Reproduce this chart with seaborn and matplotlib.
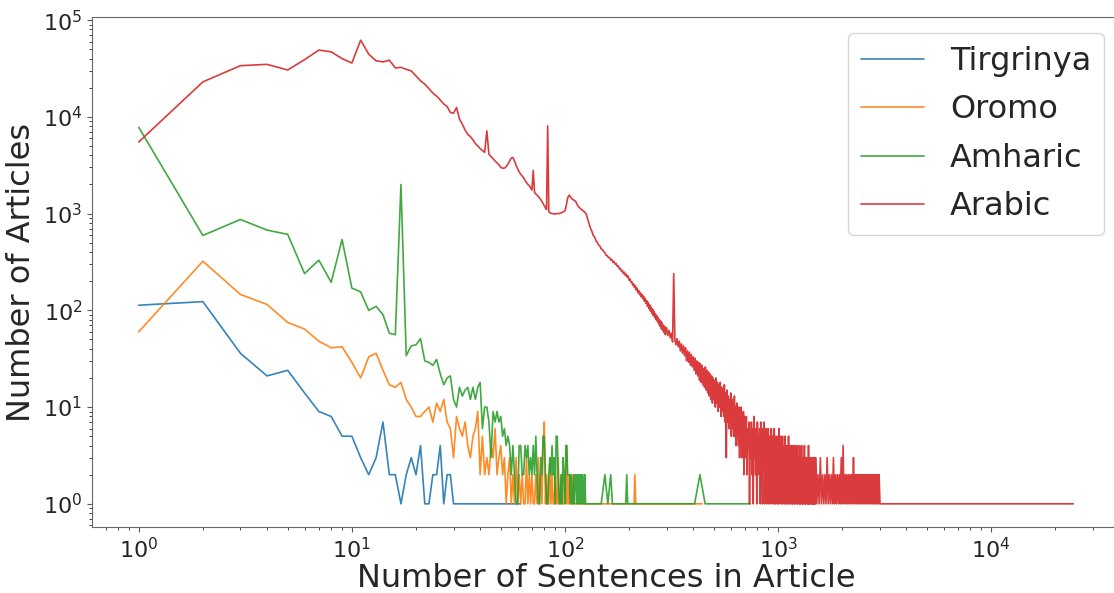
import matplotlib
matplotlib.use("Agg")
import matplotlib.pyplot as plt
import numpy as np
import pandas as pd
import seaborn as sns

# article counts per number of sentences (zero counts left out of the log plot)
tigrinya_x = list(range(1, 31)) + [40, 54, 62]
tigrinya_counts = [113, 123, 36, 21, 24, 14, 9, 8, 5, 5,
                   3, 2, 3, 7, 2, 2, 1, 2, 3, 2,
                   4, 1, 1, 2, 2, 4, 1, 2, 2, 1,
                   1, 1, 1]

oromo_x = list(range(1, 111)) + [118, 126, 140, 160, 185, 211, 213, 215, 260, 330, 440]
oromo_counts = [60, 322, 146, 115, 75, 64, 48, 41, 42, 29,
                20, 33, 36, 24, 17, 16, 18, 12, 10, 8,
                8, 9, 10, 7, 11, 9, 12, 7, 6, 3,
                8, 6, 5, 7, 4, 3, 5, 6, 9, 2,
                5, 2, 3, 2, 4, 3, 6, 2, 3, 4,
                2, 3, 1, 2, 3, 1, 2, 1, 3, 1,
                2, 1, 2, 1, 1, 3, 1, 2, 1, 2,
                1, 1, 2, 1, 3, 1, 2, 1, 4, 7,
                1, 2, 1, 1, 3, 1, 2, 1, 1, 2,
                1, 1, 3, 1, 1, 2, 1, 1, 1, 2,
                1, 4, 1, 1, 2, 1, 1, 1, 2, 1,
                1, 1, 1, 1, 1, 1, 2, 1, 1, 1, 1]

amharic_x = list(range(1, 127)) + [135, 148, 154, 159, 164, 167, 180, 193, 195, 197,
                                   250, 320, 406, 430, 455, 600, 740]
amharic_counts = [7800, 594, 870, 675, 610, 240, 330, 195, 540, 170,
                  155, 100, 110, 90, 58, 56, 2000, 34, 43, 44,
                  51, 30, 29, 27, 31, 22, 17, 20, 21, 12,
                  10, 16, 13, 15, 16, 12, 16, 12, 16, 18,
                  6, 10, 10, 7, 3, 9, 7, 9, 7, 8,
                  5, 6, 4, 5, 4, 2, 4, 2, 1, 1,
                  4, 4, 2, 2, 4, 3, 4, 2, 3, 2,
                  4, 2, 5, 2, 1, 1, 3, 2, 5, 5,
                  2, 1, 1, 2, 3, 2, 4, 2, 3, 1,
                  5, 5, 2, 1, 1, 2, 1, 3, 2, 1,
                  4, 4, 2, 2, 2, 1, 2, 1, 1, 2,
                  1, 2, 2, 1, 2, 1, 2, 1, 2, 1,
                  2, 1, 1, 2, 1, 1,
                  1, 1, 2, 1, 2, 1, 1, 1, 2, 1,
                  1, 1, 1, 2, 1, 1, 1]

arabic_x = (list(range(1, 131)) + list(range(132, 300, 2)) + list(range(300, 700, 4))
            + list(range(700, 1500, 5)) + list(range(1500, 3000, 20)) + [3010, 24300])
arabic_counts = [
    5500, 23000, 33800, 34900, 30500, 39000, 49000, 47000, 40000, 36000,
    62000, 44500, 38000, 37000, 38500, 32000, 32500, 31000, 29900, 26500,
    23600, 21800, 19600, 17600, 16400, 14900, 13600, 12800, 11100, 10900,
    12500, 9500, 8400, 7300, 6600, 6250, 5800, 5300, 5000, 4700,
    4500, 4300, 7150, 4100, 3900, 3700, 3500, 3350, 3200, 3000,
    2950, 2950, 3050, 3250, 3500, 3750, 3800, 3500, 3150, 2900,
    2700, 2550, 2450, 2350, 2200, 2100, 2000, 1950, 1850, 1750,
    2800, 1650, 1600, 1550, 1500, 1450, 1400, 1330, 1270, 1200,
    1150, 1100, 8050, 1050, 1020, 1010, 1000, 1000, 990, 990,
    1000, 1000, 1000, 1000, 1010, 1020, 1030, 1040, 1050, 1070,
    1150, 1300, 1450, 1520, 1550, 1500, 1450, 1420, 1400, 1380,
    1360, 1350, 1300, 1250, 1200, 1180, 1150, 1130, 1110, 1100,
    1080, 1060, 1050, 1030, 1020, 980, 920, 860, 820, 780,
    # 132 .. 298
    700, 650, 590, 570, 520, 505, 470, 462, 430, 425,
    405, 395, 370, 368, 350, 352, 330, 336, 315, 320,
    300, 305, 285, 288, 268, 272, 255, 258, 240, 248,
    230, 236, 220, 226, 205, 210, 195, 198, 182, 188,
    172, 180, 162, 170, 152, 160, 145, 152, 138, 146,
    132, 140, 124, 133, 118, 126, 110, 120, 104, 114,
    98, 108, 93, 103, 88, 97, 84, 92, 80, 88,
    76, 84, 72, 80, 68, 77, 64, 74, 62, 70,
    59, 68, 56, 65,
    # 300 .. 696
    66, 55, 62, 52, 58, 47, 240, 50, 44, 51,
    42, 48, 38, 45, 36, 43, 34, 41, 30, 38,
    29, 37, 27, 35, 26, 33, 24, 32, 22, 30,
    21, 29, 19, 28, 18, 27, 17, 25, 16, 26,
    15, 24, 14, 23, 13, 22, 12, 21, 11, 20,
    12, 19, 10, 20, 11, 18, 9, 17, 10, 18,
    8, 16, 9, 15, 8, 17, 7, 14, 3, 15,
    7, 13, 6, 12, 7, 14, 5, 12, 6, 11,
    5, 13, 5, 10, 4, 11, 5, 9, 4, 10,
    3, 9, 4, 10, 3, 8, 4, 9, 2, 8,
    # 700 .. 1495
    7, 3, 8, 2, 6, 4, 7, 1, 5, 3,
    7, 2, 6, 1, 8, 3, 5, 2, 6, 1,
    7, 2, 5, 3, 6, 1, 7, 2, 4, 1,
    6, 3, 7, 1, 5, 2, 6, 1, 4, 2,
    6, 1, 5, 2, 4, 1, 6, 3, 5, 1,
    4, 2, 6, 1, 5, 1, 3, 2, 5, 1,
    4, 1, 6, 2, 3, 1, 5, 2, 4, 1,
    5, 1, 3, 2, 4, 1, 5, 1, 3, 2,
    4, 1, 3, 1, 5, 2, 3, 1, 4, 1,
    3, 2, 4, 1, 3, 1, 4, 2, 3, 1,
    4, 1, 3, 2, 3, 1, 4, 1, 3, 2,
    3, 1, 4, 1, 2, 1, 3, 2, 4, 1,
    3, 1, 2, 1, 3, 2, 4, 1, 2, 1,
    3, 1, 3, 2, 2, 1, 3, 1, 4, 1,
    2, 1, 3, 1, 2, 2, 3, 1, 2, 1,
    3, 1, 2, 1, 3, 1, 2, 1, 3, 1,
    # 1500 .. 2980
    3, 1, 2, 1, 3, 1, 2, 1, 2, 1,
    3, 1, 2, 1, 2, 1, 3, 1, 2, 1,
    2, 1, 2, 1, 3, 1, 4, 1, 2, 1,
    2, 1, 2, 1, 2, 1, 2, 1, 3, 1,
    2, 1, 2, 1, 2, 1, 2, 1, 2, 1,
    2, 1, 2, 1, 2, 1, 2, 1, 2, 1,
    2, 1, 2, 1, 2, 1, 2, 1, 2, 1,
    2, 1, 2, 1, 2,
    # then single articles up to the longest one
    1, 1]

languages = ["Tirgrinya", "Oromo", "Amharic", "Arabic"]

frames = []
for name, xs, ys in zip(languages,
                        [tigrinya_x, oromo_x, amharic_x, arabic_x],
                        [tigrinya_counts, oromo_counts, amharic_counts, arabic_counts]):
    frames.append(pd.DataFrame({"Sentences": xs, "Articles": ys, "Language": name}))
df = pd.concat(frames, ignore_index=True)
df = df[df["Articles"] > 0]

sns.set_style("ticks")
plt.rcParams["font.family"] = "DejaVu Sans"

fig = plt.figure(figsize=(11.14, 5.93), dpi=100)
ax = fig.add_axes([0.0826, 0.1113, 0.9228, 0.86])
sns.lineplot(data=df, x="Sentences", y="Articles", hue="Language", hue_order=languages,
             palette="tab10", linewidth=1.2, alpha=0.9, estimator=None, ax=ax)
ax.set_xscale("log")
ax.set_yscale("log")
ax.set_xlabel("Number of Sentences in Article", fontsize=23, labelpad=1)
ax.set_ylabel("Number of Articles", fontsize=23)
ax.tick_params(labelsize=16, color="0.35")
for side, spine in ax.spines.items():
    spine.set_color("0.4")
ax.spines["right"].set_visible(False)
ax.legend(fontsize=23, loc="upper right", labelspacing=0.55)

fig.savefig("out.png", dpi=100)
